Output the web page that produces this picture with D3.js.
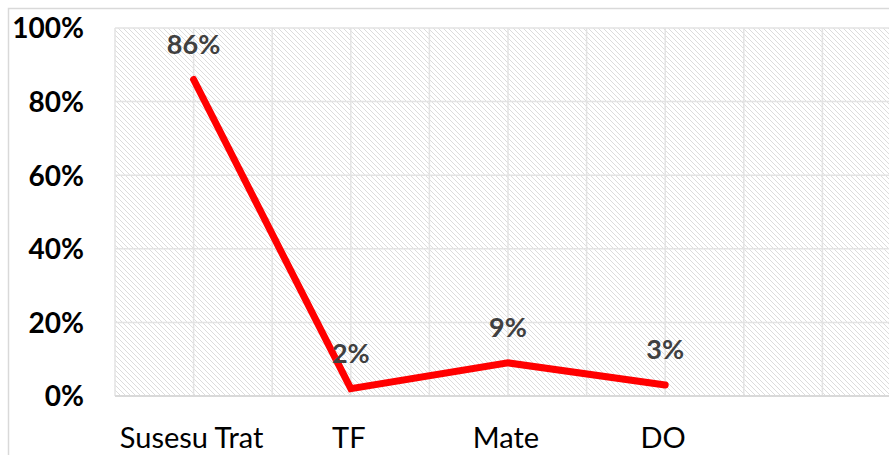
<!DOCTYPE html>
<html>
<head>
<meta charset="utf-8">
<script src="https://cdn.jsdelivr.net/npm/d3@7"></script>
<style>
  html, body { margin: 0; padding: 0; background: #fff; }
  svg { display: block; }
</style>
</head>
<body>
<svg id="chart" width="889" height="455"></svg>
<script>
// Data
const categories = ["Susesu Trat", "TF", "Mate", "DO", "", ""];
const values = [0.86, 0.02, 0.09, 0.03];
const valueLabels = ["86%", "2%", "9%", "3%"];
const yTicks = [0, 0.2, 0.4, 0.6, 0.8, 1.0];

(function () {
const svg = d3.select("#chart");
const pLeft = 115, pTop = 28, pBottom = 396;
const band = 157.2;
const pRight = pLeft + band * categories.length;

// outer frame
svg.append("rect").attr("x", 8.5).attr("y", 8.5).attr("width", 1000).attr("height", 1000)
  .attr("fill", "#fff").attr("stroke", "#d9d9d9").attr("stroke-width", 1.5);

// hatch pattern
const defs = svg.append("defs");
const pat = defs.append("pattern").attr("id", "hatch").attr("patternUnits", "userSpaceOnUse")
  .attr("width", 5).attr("height", 5);
pat.append("rect").attr("width", 5).attr("height", 5).attr("fill", "#fff");
pat.append("path").attr("d", "M-1,-1 L6,6 M-1,4 L1,6 M4,-1 L6,1")
  .attr("stroke", "#dcdcdc").attr("stroke-width", 1);

const x = d3.scaleBand().domain(categories.map((c, i) => i)).range([pLeft, pRight]).padding(0);
const y = d3.scaleLinear().domain([0, 1]).range([pBottom, pTop]);

svg.append("rect").attr("x", pLeft).attr("y", pTop).attr("width", pRight - pLeft).attr("height", pBottom - pTop)
  .attr("fill", "url(#hatch)");

// vertical gridlines (at band edges and centers)
const vLines = [];
categories.forEach((c, i) => { vLines.push(x(i)); vLines.push(x(i) + x.bandwidth() / 2); });
svg.append("g").selectAll("line").data(vLines).join("line")
  .attr("x1", d => d).attr("x2", d => d).attr("y1", pTop).attr("y2", pBottom)
  .attr("stroke", "#e3e3e3").attr("stroke-width", 1.5);

// horizontal gridlines
svg.append("g").selectAll("line").data(yTicks).join("line")
  .attr("x1", pLeft).attr("x2", pRight).attr("y1", d => y(d)).attr("y2", d => y(d))
  .attr("stroke", d => d === 0 ? "#d9d9d9" : "#e3e3e3").attr("stroke-width", d => d === 0 ? 2 : 1.5);

// y axis labels
const yAxis = d3.axisLeft(y).tickValues(yTicks).tickFormat(d3.format(".0%")).tickSize(0).tickPadding(0);
const ya = svg.append("g").attr("transform", `translate(84,0)`).call(yAxis);
ya.select(".domain").remove();
ya.selectAll("text").attr("font-family", "Lato, 'Open Sans', sans-serif").attr("font-weight", "bold")
  .attr("font-size", 28).attr("fill", "#000").attr("dy", "0.35em");

// x axis labels
const xAxis = d3.axisBottom(x).tickFormat(i => categories[i]).tickSize(0).tickPadding(0);
const xa = svg.append("g").attr("transform", `translate(-2,${pBottom})`).call(xAxis);
xa.select(".domain").remove();
xa.selectAll("text").attr("font-family", "Lato, 'Open Sans', sans-serif")
  .attr("font-size", 29).attr("fill", "#000").attr("dy", 0).attr("y", 52);

// line
const cx = i => x(i) + x.bandwidth() / 2;
const line = d3.line().x((d, i) => cx(i)).y(d => y(d));
svg.append("path").datum(values).attr("d", line).attr("fill", "none")
  .attr("stroke", "#ff0000").attr("stroke-width", 7).attr("stroke-linecap", "round").attr("stroke-linejoin", "miter");

// value labels
svg.append("g").selectAll("text").data(values).join("text")
  .attr("x", (d, i) => cx(i)).attr("y", d => y(d) - 26)
  .attr("text-anchor", "middle")
  .attr("font-family", "Lato, 'Open Sans', sans-serif").attr("font-weight", "bold")
  .attr("font-size", 27).attr("fill", "#404040")
  .text((d, i) => valueLabels[i]);
})();
</script>
</body>
</html>
